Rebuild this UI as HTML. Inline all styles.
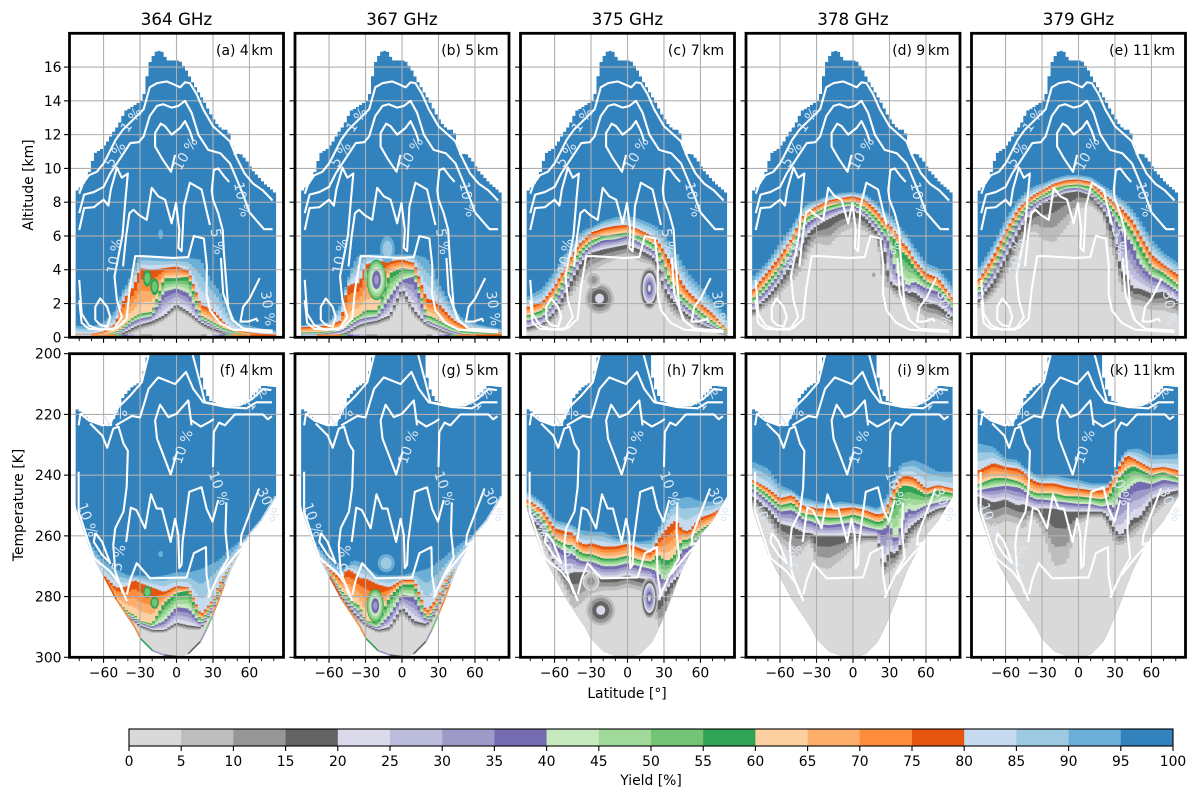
<!DOCTYPE html>
<html lang="en">
<head>
<meta charset="utf-8">
<title>Yield by latitude, altitude and temperature</title>
<style>
html,body{margin:0;padding:0;background:#fff;}
svg{display:block;font-family:"DejaVu Sans","Liberation Sans",sans-serif;fill:#000;}
</style>
</head>
<body>
<svg id="fig" xmlns="http://www.w3.org/2000/svg" width="1199" height="800" viewBox="0 0 1199 800">
<rect x="0" y="0" width="1199" height="800" fill="#fff"/>
<g id="plots"></g>
<g id="static-text" font-size="13.9">
<text x="176.5" y="25" font-size="16.7" text-anchor="middle">364 GHz</text>
<text x="402" y="25" font-size="16.7" text-anchor="middle">367 GHz</text>
<text x="627.5" y="25" font-size="16.7" text-anchor="middle">375 GHz</text>
<text x="853" y="25" font-size="16.7" text-anchor="middle">378 GHz</text>
<text x="1078.5" y="25" font-size="16.7" text-anchor="middle">379 GHz</text>
<text x="273" y="55" text-anchor="end">(a) 4&#8201;km</text>
<text x="498.5" y="55" text-anchor="end">(b) 5&#8201;km</text>
<text x="724" y="55" text-anchor="end">(c) 7&#8201;km</text>
<text x="949.5" y="55" text-anchor="end">(d) 9&#8201;km</text>
<text x="1175" y="55" text-anchor="end">(e) 11&#8201;km</text>
<text x="273" y="375" text-anchor="end">(f) 4&#8201;km</text>
<text x="498.5" y="375" text-anchor="end">(g) 5&#8201;km</text>
<text x="724" y="375" text-anchor="end">(h) 7&#8201;km</text>
<text x="949.5" y="375" text-anchor="end">(i) 9&#8201;km</text>
<text x="1175" y="375" text-anchor="end">(k) 11&#8201;km</text>
<text transform="translate(33,185) rotate(-90)" text-anchor="middle">Altitude [km]</text>
<text transform="translate(23,505) rotate(-90)" text-anchor="middle">Temperature [K]</text>
<text x="627" y="698" text-anchor="middle">Latitude [°]</text>
<text x="651" y="785" text-anchor="middle">Yield [%]</text>
</g>
<g id="colorbar"></g>
</svg>
<script>
/* ---------- axis tick values and labels ---------- */
const xMajor=[-60,-30,0,30,60];
const xMajorLabels=["\u221260","\u221230","0","30","60"];
const xMinor=[-80,-70,-50,-40,-20,-10,10,20,40,50,70,80];
const altTicks=[0,2,4,6,8,10,12,14,16];
const tempTicks=[200,220,240,260,280,300];
const cbTicks=[0,5,10,15,20,25,30,35,40,45,50,55,60,65,70,75,80,85,90,95,100];
const bandColors=["#d9d9d9","#bdbdbd","#969696","#636363","#dadaeb","#bcbddc","#9e9ac8","#756bb1","#c7e9c0","#a1d99b","#74c476","#31a354","#fdd0a2","#fdae6b","#fd8d3c","#e6550d","#c6dbef","#9ecae1","#6baed6","#3182bd"];

/* ---------- data domain outlines ---------- */
const domeLat=[-83,-77.5,-72.5,-67.5,-62.5,-57.5,-52.5,-47.5,-42.5,-37.5,-32.5,-27.5,-22.5,-17.5,-12.5,-7.5,-2.5,2.5,7.5,12.5,17.5,22.5,27.5,32.5,37.5,42.5,47.5,52.5,57.5,62.5,67.5,72.5,77.5,82];
const domeAlt=[8.6,9,9.6,10.9,11.1,11.5,12.1,12.6,13.4,13.6,13.85,14.1,16.2,16.9,17,16.4,16.4,16.4,15.9,15.2,14.6,14,13.3,12.7,12.3,12.3,10.8,10.9,10.5,9.9,9.5,9.1,8.8,8.5];
const coldLat=[-83,-79,-71,-60,-54.5,-43.6,-36.7,-28.5,-23,-20,18,19,23,27.5,41,57.5,71,82];
const coldTemp=[218,219,222,223.6,224,214,211,208.9,199,195,195,205,211.6,215.4,217.6,216,210.5,211];
const warmLat=[-83,-82,-70,-60,-50,-45,-40,-35,-30,-20,-10,0,10,20,25,30,35,40,45,50,60,70,82];
const warmTemp=[250,252,266,273.5,281,284,287,290,294,298,299.5,300,299,295,291,286.5,281.5,276,271,267,259.7,255,247];

/* ---------- latitude nodes where the yield contours were read ---------- */
const latNodes=[-82,-70,-60,-50,-45,-40,-35,-30,-20,-10,0,10,20,25,30,35,40,45,50,60,70,82];

/* panel a: altitude (km) of yield levels */
const a95=[.7,.6,.9,1.6,2.7,3.2,4.3,4.8,4.8,4.7,4.7,4.7,4.6,3.8,3.2,2.8,2,1.3,.9,.7,.5,.4];
const a80=[.2,.2,.35,.8,2,2.6,3,4.1,4,4.1,4.2,3.9,1.9,1.8,1.6,1.2,.8,.55,.4,.3,.2,.15];
const a60=[.12,.12,.15,.3,.55,.9,1.2,1.4,1.5,3.5,3.5,3.6,1.3,1.1,.9,.7,.5,.4,.25,.15,.12,.1];
const a40=[.08,.08,.1,.2,.4,.7,.95,1.1,1.25,2.7,2.9,2.6,1.1,.9,.7,.5,.35,.25,.15,.1,.08,.06];
const a20=[.05,.05,.06,.1,.25,.4,.6,.75,.95,1.3,1.95,1.5,.9,.7,.55,.4,.25,.15,.1,.07,.05,.04];
const a5=[.02,.02,.02,.03,.05,.15,.3,.45,.65,1,1.6,1.2,.65,.45,.3,.2,.1,.05,.03,.02,.02,.02];
/* panel b */
const b95=[.7,.8,.9,2,3.3,4.4,4.9,4.9,4.9,4.9,4.9,4.9,4.7,4.2,3.2,2.6,2,1.5,1.1,.8,.65,.5];
const b80=[.6,.65,.7,1,3,3.2,3.2,4.3,4.5,4.5,4.6,4.4,2.3,2.2,2,1.6,1.2,.9,.7,.5,.4,.3];
const b60=[.3,.3,.35,.55,.8,1.1,1.3,1.6,1.6,3.8,4.1,4,1.3,1.2,1,.8,.6,.5,.35,.3,.25,.2];
const b40=[.2,.2,.25,.4,.6,.85,1.05,1.15,1.25,2.4,3.4,3.6,1,.85,.7,.55,.4,.3,.2,.18,.15,.12];
const b20=[.1,.1,.12,.2,.3,.55,.75,.85,1,1.3,2.9,1.6,.8,.65,.5,.35,.25,.15,.1,.1,.08,.06];
const b5=[.02,.02,.02,.05,.1,.3,.5,.6,.75,1,2.4,1.2,.6,.45,.3,.2,.1,.05,.03,.02,.02,.02];
/* panel c */
const c95=[2.4,2.9,3.9,5.1,5.6,6.1,6.4,6.5,6.9,7.1,7.2,7,6.7,6.5,6.1,5.6,5.1,4.4,3.8,3,2.2,1.2];
const c80=[1.8,2.1,3,4.3,4.9,5.5,5.8,6.2,6.45,6.6,6.65,6.35,6,5.7,5.1,4.5,3.9,3.2,2.7,2,1.4,.45];
const c60=[1.3,1.6,2.4,3.7,4.4,5,5.4,5.7,6,6.1,6.2,5.95,5.6,5.2,4.4,3.4,2.9,2.4,2.1,1.5,.95,.3];
const c40=[1,1.2,2,3.3,4,4.6,5.1,5.4,5.75,5.8,6,5.6,5.2,4.8,3.6,3,2.5,2,1.7,1.1,.7,.2];
const c20=[.6,.8,1.5,2.8,3.5,4.2,4.7,5,5.2,5.35,5.5,5.2,4.8,4.4,3,2.4,2,1.6,1.3,.8,.5,.1];
const c5=[.3,.5,1,2,2.6,3.1,3.5,3.9,4.3,4.6,4.8,4.5,4.3,3.6,2.3,1.6,1.2,1,.9,.5,.3,.05];
/* panel d */
const d95=[3.6,4.5,5.6,6.6,7.2,7.8,8,8.1,8.4,8.55,8.6,8.5,7.9,7.5,7.3,6.9,6.4,6,5.4,4.4,4.1,3];
const d80=[2.8,3.9,4.8,5.9,6.65,7.35,7.55,7.75,8.1,8.25,8.35,8.15,7.45,6.95,6.65,6.25,5.65,5.3,4.6,3.8,3.5,2.3];
const d60=[2.3,3.3,4.2,5.4,6.2,7,7.2,7.4,7.75,7.95,8,7.7,7,6.5,6.2,5.7,5.1,4.8,4.2,3.3,3,2];
const d40=[2,2.9,3.8,5,5.7,6.6,6.9,7.1,7.5,7.7,7.8,7.4,6.6,6.1,5.6,3.9,3.5,3,3.3,2.9,2.7,1.7];
const d20=[1.6,2.4,3.3,4.4,4.9,5.8,6.3,6.6,7,7.35,7.5,7.1,6.2,5.6,3.4,3,3.1,2.6,2.7,2.1,1.9,1.2];
const d5=[1.2,1.9,2.6,3.3,3.7,4.4,5.2,5.6,5.4,6.2,6.5,6.3,5.7,3,2.9,2.4,2.2,2.1,1.7,1.2,1.1,.6];
/* panel e */
const e95=[4.1,5.5,7,8.1,8.5,8.8,9,9.1,9.4,9.6,9.6,9.5,9,8.8,8.5,8.2,7.9,7.5,7,5.8,5,4.4];
const e80=[3.4,4.8,6.25,7.55,7.95,8.25,8.5,8.7,9.1,9.3,9.35,9.2,8.5,8.25,7.95,7.65,7.25,6.85,6.15,4.9,4.3,3.7];
const e60=[2.9,4.2,5.8,7.1,7.6,7.9,8.2,8.4,8.8,9,9.05,8.9,8.2,7.9,7.5,7.1,6.7,6.2,5.5,4.2,3.8,3.1];
const e40=[2.6,3.9,5.3,6.8,7.3,7.7,8,8.2,8.5,8.8,8.85,8.6,7.9,7.6,7,6.4,5.9,5.4,4.4,3.6,3.3,2.7];
const e20=[2.2,3.3,4.7,6.2,6.8,7.2,7.6,7.9,8.3,8.55,8.65,8.4,7.6,7,6,4,3.6,2.9,2.9,2.6,2.7,2.1];
const e5=[1.7,2.5,3.6,5,5.6,6.2,6.3,5.8,5.6,6.5,7.6,7.8,7.2,5.6,4.6,2.8,2.4,1.9,1.9,1.6,1.6,1.3];
/* panel f: temperature (K) of yield levels */
const f95=[256,263,268,271,272,273,273,273,273.5,273,272,272,271,270,269,268,266,264,262.5,259.5,254.5,246.5];
const f80=[258,267,273,277,277,276.5,274.5,275.5,277,278.5,276.5,277,286,283.7,281,276,272.5,270,266,260,255,247];
const f60=[259,268,275,281,283,285,286,288,289,282,278.8,278,288,285.5,282,277.5,273,270.5,266.5,260.2,255.2,247.2];
const f40=[259.3,268.3,275.3,281.5,283.7,286,287,288.6,290,288,283.5,284,289,286.5,283,278.3,273.5,271,267,260.4,255.4,247.4];
const f20=[259.5,268.5,275.5,282,284.2,286.7,287.7,289.5,291,291,288.6,289.5,290,287.3,284,279,274,271.3,267.2,260.5,255.5,247.5];
const f5=[260,269,276,283,285,287.5,288.5,290.5,292,292,290,291,291,288,285,280,275,272,268,261,256,248];
/* panel g */
const g95=[256,263,268,271,270,268,268.5,270,273,273,273,272,271,270,268.5,267,265,263.5,262,259.5,254.5,246.5];
const g80=[258,266,271,274,271,272,274,274,276,277,274.5,274.5,285,282.5,280,275,272.5,270.5,267,260,255,247];
const g60=[259,267,272,278,280,282,283,288,288.6,280,276,276,287,285,281.5,276.5,273,271,267.5,260.2,255.2,247.2];
const g40=[259.3,267.3,272.5,279,281.5,283.5,285,288.5,290.3,286,279.5,280,288,286,282,277,273.5,271.3,267.8,260.4,255.4,247.4];
const g20=[259.5,267.5,273,280,282.5,285,287,289,291,290,283.5,288,289,287,283,278,274,271.5,268,260.5,255.5,247.5];
const g5=[260,268,274,281.5,284.5,286.5,288.5,290,292,291.5,286,290,290.5,288,284,279,275,272,268.5,261,256,248];
/* panel h */
const h95=[245.5,249,254.8,255.8,256.5,258,258.3,258.6,258.6,260.8,261.3,262,261.3,258,253.7,249,247.6,247.6,247,248.7,248.7,248];
const h80=[248,251.5,257.5,258.6,259,261.9,263,262.4,263.5,263.5,262.6,264,265.7,261.3,258.6,256.4,254.8,258,258.6,254,252.6,249.8];
const h60=[250,254,261,263,263,265,266,266,267.5,267.5,266.5,268,268.5,266,268,268,265.7,261.3,261.3,258,255.5,251];
const h40=[251,256,263,265.5,266,268,268.5,268.5,270,270,269,270,271,272,275,273,270,264.5,264,260,257,252];
const h20=[253,258,269,273,272,272,272,272.5,274,274,273,274,274.5,282,279,276,274,272,268,262,258,253];
const h5=[256,262,270,279,284,283,281,279,278,278,277,278,280,290,290,282,277,274,270,263,259,254];
/* panel i */
const i95=[235.6,237.8,243.3,245,246.6,247.6,248,248.7,249.3,248.7,249.3,249.8,251,248.7,245.5,239.5,236,235.6,235,236.7,238.9,238.9];
const i80=[241.6,244.4,247.6,246.6,248.7,250.4,250.4,251,251,251,250.6,251.5,253,252.6,248.7,243.3,240.5,240.3,240.8,244.4,243.3,244.4];
const i60=[243,246.5,250,249,251,253,253,253.5,254,254,253,254,255.5,255,252,246.5,243.5,243.5,244,246.5,245,246];
const i40=[244.5,248.5,252,251.5,253,255,255,256,256.5,256,255.5,257,258,258,256,262,256,251,252,250,249,248];
const i20=[247,251,256,257,258,259,259,260,260,260,259,260,260,270,265,266,262,258,256,253,251,250];
const i5=[250,255,262,266,267,264,262,270,271,268,264,262,262,273,272,270,267,263,260,256,253,252];
/* panel k */
const k95=[229.6,230.7,234.5,235,237.3,238.4,240,240.5,240,241,241.6,242.7,242.7,242.7,239.5,234,231.6,231.3,231.3,233.4,233.4,232.9];
const k80=[238.4,236,237.3,237.8,239,241,242.2,242.7,242.7,243.8,244.4,245,245,243.8,239.5,236.2,233.4,234.5,235.6,237.8,237.3,238.4];
const k60=[243,241,241,242,243,245,246,246,246,247,247,247.5,248,247,243,240,238,237,238,240,239,241];
const k40=[245,244,243.5,244,245,247,248,248,248.5,249,249.5,249.5,250.5,249.5,251,246,245,243,242,243,241.5,242.5];
const k20=[247,249,248,250,249.5,250.5,251,251,251,252,252,252,252,254,258,260,257,254,254,248,246,245];
const k5=[254,257,255,256,258,254,255,258,270,269,256,254,254,258,263,263,262,260,258,254,250,248];

/* yield along the ground / warm rim of the strongly absorbing panels */
const floorA=[85,75,75,55,40,35,30,15,8,8,8,8,12,25,35,40,55,75,75,80,80,85];
const floorB=[85,75,75,55,40,35,30,15,8,8,8,8,12,25,35,40,55,75,75,80,80,85];
const floorF=[85,85,80,75,75,75,75,60,35,20,5,20,35,55,75,75,85,85,85,85,85,85];
const floorG=[85,85,80,75,75,75,75,60,35,20,5,20,35,55,75,75,85,85,85,85,85,85];

/* isolated yield patches */
const patchPanel=["a","a","a","b","b","b","c","c","c","d","f","f","f","g","g","h","h","h"];
const patchLat=[-24,-18,-13,-21,-30,-12,-23,18,-28,17,-24,-18,-13,-22,-13,-22,18,-30];
const patchVal=[3.5,3,6.1,3.4,3.7,5.2,2.3,2.9,3.4,3.7,278.5,282,266,283,269,284.5,280.5,275];
const patchLatRadius=[3.5,3.5,2,8,1.5,6,13,8,7,2,3.5,3.5,2,7,7,13,7,7];
const patchValRadius=[.5,.5,.3,1.2,.4,.8,1,1.3,.5,.2,2,2,1,5.5,3,5.5,7,3];
const patchOuter=[60,60,95,60,55,95,5,5,5,5,60,60,95,60,95,5,5,5];
const patchInner=[55,55,95,35,50,90,25,45,15,15,55,55,95,35,90,25,45,15];

/* white contour lines, [latitude, altitude km] */
const topLines=[
[[-80,8.5],[-77,9.1],[-72,9.6],[-65.5,9.8],[-60,10.3],[-57,10.7],[-50,11.7],[-44,12.3],[-27,13.5],[-22,14.8],[-16,15.05],[-8,15.15],[-3,15],[3,14.8],[7,15.1],[11,15.05],[16.5,14.4],[22,13.5],[30,12.5],[44,11.6],[49,10.7],[56,9.7],[63,9.1],[71,8.7],[79,8.1]],
[[-80,7.35],[-76,8.45],[-68,8.6],[-60,8.9],[-54.5,9.7],[-38,11.5],[-31,11.55],[-27,11.9],[-22,13.1],[-16,13.7],[-11,13.8],[-4,13.6],[1.5,13.7],[7,14],[12.4,13.3],[18,12],[26,11.1],[36,10.9],[44,10.3],[51,9.1],[55,8.4],[60,7.4],[66,6.9],[72,6.4],[79,6.4]],
[[43.3,9.2],[39,9.55],[34.3,10],[30.7,9.9],[29,8.7],[30,8.15],[34.3,7.35],[38,6.35],[39,5],[41,3.2],[42.5,1.8],[46.6,1],[55,.5],[79,.4]],
[[-80,6.35],[-76,7.65],[-68,7.7],[-60,8.15],[-56,7.8],[-54,8.75],[-49,10.05],[-45,9.45],[-40,9.7],[-42,8.15],[-44.4,6.05],[-51,3.6],[-49,2.2],[-45,1.2],[-52,.45],[-72,.5],[-78,.85],[-80,2.2]],
[[13.8,11.6],[11,12.2],[7,12.8],[3,12.4],[-4,12],[-9.4,12.5],[-13,12.65],[-17.6,12.1],[-17.6,11.3],[-12,10.6],[-4.5,9.8],[-1.2,10.8]],
[[27.5,6.65],[20.6,8.75],[11,9.15],[6.1,7.75],[5,6.15],[4.2,5.1],[1.5,5.3],[2.3,6.35],[-.4,7.95],[-4,6.75],[-9.4,8.15],[-15,8.35],[-20.4,8.85],[-24.5,6.95],[-31,7.25],[-35.4,7.55],[-38.7,7.35],[-41.4,6],[-44,4.2]],
[[-80,3.4],[-78,1.4],[-72,.7],[-63,.45],[-49,.55],[-41,1.1],[-38.6,2.8],[-34,4.8],[-27,4.8],[-2.6,4.7],[9.7,4.75],[14.3,6],[22.5,5.85],[25,4.2],[24.7,2.6],[27.5,1.6],[35.7,.85],[46.6,.45],[79,.3]],
[[68.4,3.5],[60.2,2.3],[54.8,1.8],[52.6,.93],[58.9,.93],[65.7,1.1],[67,.93]],
[[-66.8,1.03],[-66.8,1.8],[-62.7,2.3],[-57,1.8],[-54.5,1.2],[-57,.63],[-62.7,.73],[-66.8,1.03]],
[[36.5,4.7],[38.4,2.6],[46,1]]
];
/* white contour lines, [latitude, temperature K] */
const bottomLines=[
[[-80.5,223.6],[-79,219.8],[-72,222],[-61,223.6],[-54.5,223],[-47.7,217.6],[-38,213.8],[-28.5,209.4],[-22,199]],
[[12.4,199],[19.3,209.4],[23.4,216],[38.4,217],[52,217],[62,215],[71,211.6],[78,212]],
[[-71,223],[-61,227],[-57,231],[-52,224.7],[-47.7,224],[-43.6,229.6],[-40,232],[-41,244],[-43.6,252],[-50.4,257.5],[-52,263],[-50.4,271.7],[-44,279]],
[[-50,223.6],[-36.7,220.5],[-30,221],[-23,211.6],[-15,207.8],[-1.2,210],[7.8,206],[13.8,211.6],[22,216],[41,217.6],[57.5,218],[65.7,216],[78.5,216]],
[[12.4,223.6],[9.7,215.4],[0,219.8],[-6.7,220.9],[-13.5,216.8],[-17.6,222],[-16,228],[-10.8,233.4],[-4.8,239.8],[.7,232]],
[[30,237.3],[30.7,225.8],[35,222.7],[39.8,223.6],[48,220],[61.6,220],[71,220],[75,221.6],[78.5,220.6]],
[[12.4,222],[20,224],[27,222.5],[30.7,221.5]],
[[-41.4,262],[-37.6,250.7],[-33,251.5],[-25.8,257.5],[-21,246.3],[-16.3,251],[-12,251],[-4.8,262],[-1.2,254.4],[1.5,259.7],[2.3,270.6],[4.2,269.5],[5,261.9],[10.5,245.5],[20.6,244],[24.7,251],[29.6,255.3],[34.3,248.2]],
[[41,249],[40.3,258.6],[42.5,267.3],[35.7,272],[26,280.4]],
[[67.9,244.4],[61.6,251],[53.4,259.7],[52.6,263],[59,261.9],[49.3,266],[41,270],[35.7,272.8]],
[[-40.8,279.3],[-38,274.4],[-32.7,269],[-21.7,274],[8.3,273.7],[14.3,265.7],[24.2,263.7],[24.7,272.8],[27.5,279.9]],
[[-66.8,259],[-61.3,261.9],[-54.5,269],[-61.3,266.2],[-68,262],[-66.8,259]],
[[-80.5,238.9],[-80.5,252],[-68,267.3],[-54.5,271.7],[-46.3,276],[-40.8,281.5]]
];
/* printed contour labels */
const topLabelText=["1 %","5 %","10 %","10 %","10 %","5 %","30 %"];
const topLabelLat=[-36.7,-50,7.8,53.4,-50.4,33,74.7];
const topLabelAlt=[12.85,10.8,10.85,8.15,4.8,5.67,1.7];
const topLabelAngle=[-55,-58,-60,78,-80,80,82];
const bottomLabelText=["1 %","10 %","10 %","10 %","5 %","30 %","1 %"];
const bottomLabelLat=[-50.4,5.6,34.3,-73.6,-47,75,65.7];
const bottomLabelTemp=[220.9,230.7,244.4,254.8,267.3,249.8,214.9];
const bottomLabelAngle=[-30,-70,70,70,-80,65,-50];

const panels=[
{id:"a",row:0,col:0,e:{95:a95,80:a80,60:a60,40:a40,20:a20,5:a5},floor:floorA},
{id:"b",row:0,col:1,e:{95:b95,80:b80,60:b60,40:b40,20:b20,5:b5},floor:floorB},
{id:"c",row:0,col:2,e:{95:c95,80:c80,60:c60,40:c40,20:c20,5:c5},floor:null},
{id:"d",row:0,col:3,e:{95:d95,80:d80,60:d60,40:d40,20:d20,5:d5},floor:null},
{id:"e",row:0,col:4,e:{95:e95,80:e80,60:e60,40:e40,20:e20,5:e5},floor:null},
{id:"f",row:1,col:0,e:{95:f95,80:f80,60:f60,40:f40,20:f20,5:f5},floor:floorF},
{id:"g",row:1,col:1,e:{95:g95,80:g80,60:g60,40:g40,20:g20,5:g5},floor:floorG},
{id:"h",row:1,col:2,e:{95:h95,80:h80,60:h60,40:h40,20:h20,5:h5},floor:null},
{id:"i",row:1,col:3,e:{95:i95,80:i80,60:i60,40:i40,20:i20,5:i5},floor:null},
{id:"k",row:1,col:4,e:{95:k95,80:k80,60:k60,40:k40,20:k20,5:k5},floor:null}
];

/* ---------- layout and scales ---------- */
const NS="http://www.w3.org/2000/svg";
const axW=214, colStep=225.5, axLeft=69.5, cell=2.5;
const rowTop=[33.3,353.7], rowBot=[337.3,657.3];
function mk(tag,attrs,parent){
  const el=document.createElementNS(NS,tag);
  for(const k in attrs){el.setAttribute(k,attrs[k]);}
  parent.appendChild(el);
  return el;
}
function xScale(col,lat){return axLeft+col*colStep+(lat+88)/176*axW;}
function yScale(row,v){
  return row===0 ? rowBot[0]-v/18*(rowBot[0]-rowTop[0])
                 : rowTop[1]+(v-200)/100*(rowBot[1]-rowTop[1]);
}
function colorOf(level){
  const i=Math.max(0,Math.min(19,Math.ceil(level/5)-1));
  return bandColors[i];
}
const keyLevels=[95,80,60,40,20,5];
function edgeAt(e,level){
  for(let i=0;i<keyLevels.length-1;i++){
    const hi=keyLevels[i],lo=keyLevels[i+1];
    if(level<=hi&&level>=lo){
      const t=(level-lo)/(hi-lo);
      return e[lo].map((v,j)=>v+(e[hi][j]-v)*t);
    }
  }
  return e[5];
}
function lerp(xs,ys,x){
  if(x<=xs[0])return ys[0];
  for(let i=1;i<xs.length;i++){
    if(x<=xs[i]){const t=(x-xs[i-1])/(xs[i]-xs[i-1]);return ys[i-1]+(ys[i]-ys[i-1])*t;}
  }
  return ys[ys.length-1];
}
function fmt(n){return n.toFixed(2);}
/* stepped outline: one flat run per latitude cell, like the gridded data */
function stairs(xs,ys,from,to,X,Y){
  const out=[];
  for(let l=from;l<to-1e-6;l+=cell){
    const r=Math.min(l+cell,to);
    const v=lerp(xs,ys,(l+r)/2);
    out.push(fmt(X(l))+","+fmt(Y(v)));
    out.push(fmt(X(r))+","+fmt(Y(v)));
  }
  return out;
}

const root=document.getElementById("plots");
const defs=mk("defs",{},root);



panels.forEach(function(p){
  const X=function(lat){return xScale(p.col,lat);};
  const Y=function(v){return yScale(p.row,v);};
  const x0=X(-88), x1=X(88), yT=rowTop[p.row], yB=rowBot[p.row];
  const base=p.row===0?0:300;

  const g=mk("g",{},root);
  
  

  /* domain clip */
  let pts=[];
  if(p.row===0){
    pts=stairs(domeLat,domeAlt,-83,82,X,Y);
    pts.push(fmt(X(82))+","+fmt(yB));
    pts.push(fmt(X(-83))+","+fmt(yB));
  }else{
    pts=stairs(coldLat,coldTemp,-83,82,X,Y);
    for(let i=warmLat.length-1;i>=0;i--){pts.push(fmt(X(warmLat[i]))+","+fmt(Y(warmTemp[i])));}
  }
  const domain=pts.join(" ");
  const cp=mk("clipPath",{id:"dom-"+p.id},defs);
  
  
  const cpShape=mk("polygon",{points:domain},cp);
  
  
  const cpa=mk("clipPath",{id:"ax-"+p.id},defs);
  
  
  const cpaShape=mk("rect",{x:x0,y:yT,width:axW,height:yB-yT},cpa);
  
  

  const ga=mk("g",{"clip-path":"url(#ax-"+p.id+")"},g);
  
  

  const field=mk("g",{"clip-path":"url(#dom-"+p.id+")"},ga);
  
  

  const full=mk("polygon",{points:domain,fill:colorOf(100)},field);
  
  

  for(let level=95;level>=5;level-=5){
    const edge=edgeAt(p.e,level);
    const poly=stairs(latNodes,edge,-85,85,X,Y);
    poly.push(fmt(X(85))+","+fmt(Y(base)));
    poly.push(fmt(X(-85))+","+fmt(Y(base)));
    const band=mk("polygon",{points:poly.join(" "),fill:colorOf(level)},field);
    
    
  }

  /* isolated patches */
  patchPanel.forEach(function(pid,i){
    if(pid!==p.id)return;
    const from=patchOuter[i],to=patchInner[i];
    const n=Math.round(Math.abs(from-to)/5);
    const step=from>to?-5:5;
    for(let k=0;k<=n;k++){
      const f=1-Math.pow(k/(n+1),1.5);
      const el=mk("ellipse",{
        cx:fmt(X(patchLat[i])),cy:fmt(Y(patchVal[i])),
        rx:fmt(Math.abs(X(patchLatRadius[i]*f)-X(0))),
        ry:fmt(Math.abs(Y(base)-Y(base+(p.row===0?1:-1)*patchValRadius[i]*f))),
        fill:colorOf(from+step*k)
      },field);
      
      
    }
  });

  /* ground stripe / warm rim */
  if(p.floor){
    latNodes.forEach(function(l,i){
      if(i===latNodes.length-1)return;
      const nx=latNodes[i+1];
      let seg;
      if(p.row===0){
        seg=mk("rect",{x:fmt(X(l)),y:fmt(Y(.17)),width:fmt(X(nx)-X(l)),height:fmt(Y(.03)-Y(.17)),fill:colorOf(p.floor[i])},field);
      }else{
        seg=mk("line",{x1:fmt(X(l)),y1:fmt(Y(lerp(warmLat,warmTemp,l))),x2:fmt(X(nx)),y2:fmt(Y(lerp(warmLat,warmTemp,nx))),stroke:colorOf(p.floor[i]),"stroke-width":"3"},field);
      }
      
      
    });
  }

  /* grid */
  xMajor.forEach(function(l){
    const ln=mk("line",{x1:fmt(X(l)),x2:fmt(X(l)),y1:yT,y2:yB,stroke:"#b0b0b0","stroke-width":"1.1"},ga);
    
    
  });
  (p.row===0?altTicks:tempTicks).forEach(function(v){
    const ln=mk("line",{x1:x0,x2:x1,y1:fmt(Y(v)),y2:fmt(Y(v)),stroke:"#b0b0b0","stroke-width":"1.1"},ga);
    
    
  });

  /* white contours */
  (p.row===0?topLines:bottomLines).forEach(function(line){
    const d=line.map(function(q){return fmt(X(q[0]))+","+fmt(Y(q[1]));}).join(" ");
    const c=mk("polyline",{points:d,fill:"none",stroke:"#fff","stroke-width":"2.1","stroke-linejoin":"round","stroke-linecap":"butt"},ga);
    
    
  });

  /* contour labels */
  const lt=p.row===0?topLabelText:bottomLabelText;
  const ll=p.row===0?topLabelLat:bottomLabelLat;
  const lv=p.row===0?topLabelAlt:bottomLabelTemp;
  const la=p.row===0?topLabelAngle:bottomLabelAngle;
  lt.forEach(function(t,i){
    const tx=mk("text",{
      transform:"translate("+fmt(X(ll[i]))+","+fmt(Y(lv[i]))+") rotate("+la[i]+")",
      "text-anchor":"middle","dominant-baseline":"central","font-size":"13.9",fill:"#dbe7f2"
    },ga);
    tx.textContent=t;
    
    
  });

  /* frame */
  const frame=mk("rect",{x:x0,y:yT,width:axW,height:yB-yT,fill:"none",stroke:"#000","stroke-width":"2.8"},g);
  
  

  /* x ticks */
  xMajor.forEach(function(l,i){
    const t=mk("line",{x1:fmt(X(l)),x2:fmt(X(l)),y1:yB,y2:yB+5.5,stroke:"#000","stroke-width":"1.1"},g);
    
    
    if(p.row===1){
      const tx=mk("text",{x:fmt(X(l)),y:yB+20,"text-anchor":"middle","font-size":"13.9"},g);
      tx.textContent=xMajorLabels[i];
      
      
    }
  });
  xMinor.forEach(function(l){
    const t=mk("line",{x1:fmt(X(l)),x2:fmt(X(l)),y1:yB,y2:yB+3.8,stroke:"#000","stroke-width":"0.9"},g);
    
    
  });
  /* y ticks */
  (p.row===0?altTicks:tempTicks).forEach(function(v){
    const t=mk("line",{x1:x0-5.5,x2:x0,y1:fmt(Y(v)),y2:fmt(Y(v)),stroke:"#000","stroke-width":"1.1"},g);
    
    
    if(p.col===0){
      const tx=mk("text",{x:x0-8,y:fmt(Y(v)+5),"text-anchor":"end","font-size":"13.9"},g);
      tx.textContent=String(v);
      
      
    }
  });
});

/* ---------- colour bar ---------- */
const cbGroup=document.getElementById("colorbar");
const cbX0=129, cbX1=1173, cbY0=729, cbY1=746;
function cbScale(v){return cbX0+v/100*(cbX1-cbX0);}
bandColors.forEach(function(c,i){
  const r=mk("rect",{x:fmt(cbScale(i*5)),y:cbY0,width:fmt(cbScale(5)-cbScale(0)+.3),height:cbY1-cbY0,fill:c},cbGroup);
  
  
});
const cbFrame=mk("rect",{x:cbX0,y:cbY0,width:cbX1-cbX0,height:cbY1-cbY0,fill:"none",stroke:"#000","stroke-width":"1.1"},cbGroup);


cbTicks.forEach(function(v){
  const t=mk("line",{x1:fmt(cbScale(v)),x2:fmt(cbScale(v)),y1:cbY1,y2:cbY1+5,stroke:"#000","stroke-width":"1.1"},cbGroup);
  
  
  const tx=mk("text",{x:fmt(cbScale(v)),y:cbY1+20,"text-anchor":"middle","font-size":"13.9"},cbGroup);
  tx.textContent=String(v);
  
  
});
</script>
</body>
</html>
